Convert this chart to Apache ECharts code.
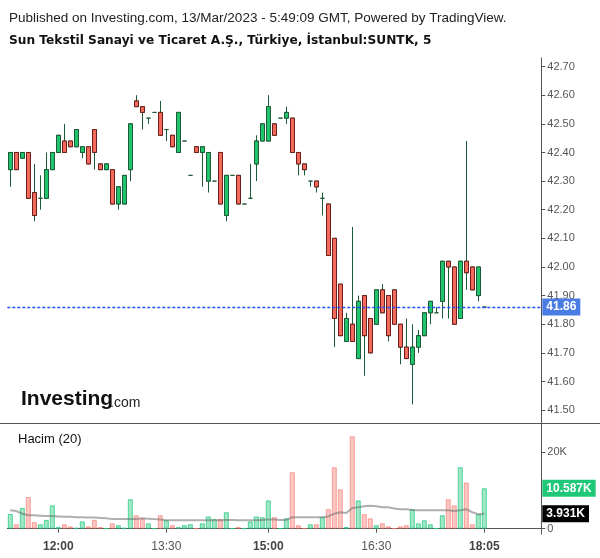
<!DOCTYPE html>
<html>
<head>
<meta charset="utf-8">
<script src="https://cdn.jsdelivr.net/npm/echarts@6/dist/echarts.min.js"></script>
<style>
html,body{margin:0;padding:0;background:#fff;}
#chart{width:600px;height:558px;}
</style>
</head>
<body>
<div id="chart"></div>
<script>
// ---- data ----
var openP  = [42.34,42.40,42.38,42.40,42.26,42.24,42.24,42.34,42.40,42.44,42.44,42.42,42.40,42.42,42.48,42.36,42.34,42.34,42.22,42.22,
              42.34,42.58,42.56,42.52,42.54,42.54,42.48,42.46,42.40,42.44,42.32,42.42,42.40,42.30,42.30,42.40,42.18,42.32,42.32,42.22,
              42.24,42.36,42.44,42.44,42.50,42.52,42.52,42.52,42.40,42.36,42.30,42.30,42.24,42.22,42.10,41.94,41.74,41.80,41.68,41.90,
              41.82,41.80,41.92,41.90,41.92,41.80,41.72,41.66,41.72,41.76,41.84,41.84,41.88,42.02,42.00,41.82,42.02,42.00,41.90,41.86];
var closeP = [42.40,42.34,42.40,42.24,42.18,42.24,42.34,42.40,42.46,42.40,42.42,42.48,42.42,42.36,42.40,42.34,42.36,42.22,42.28,42.32,
              42.50,42.56,42.54,42.52,42.54,42.46,42.48,42.42,42.54,42.44,42.32,42.40,42.42,42.40,42.30,42.22,42.32,42.32,42.22,42.22,
              42.24,42.44,42.50,42.56,42.46,42.52,42.54,42.40,42.36,42.34,42.30,42.28,42.24,42.04,41.82,41.76,41.82,41.74,41.88,41.76,
              41.70,41.92,41.84,41.76,41.80,41.72,41.68,41.72,41.76,41.84,41.88,41.84,42.02,42.00,41.80,42.02,41.98,41.92,42.00,41.86];
var lowP   = [42.28,42.34,42.38,42.24,42.16,42.20,42.24,42.34,42.40,42.40,42.42,42.42,42.38,42.36,42.34,42.34,42.34,42.22,42.20,42.22,
              42.30,42.56,42.48,42.50,42.54,42.46,42.44,42.42,42.40,42.44,42.32,42.40,42.28,42.26,42.30,42.22,42.16,42.32,42.22,42.22,
              42.24,42.30,42.44,42.44,42.46,42.52,42.50,42.40,42.32,42.32,42.28,42.26,42.18,42.04,41.72,41.76,41.74,41.74,41.68,41.62,
              41.70,41.80,41.84,41.74,41.80,41.66,41.68,41.52,41.70,41.76,41.80,41.84,41.82,41.82,41.80,41.82,41.92,41.92,41.88,41.86];
var highP  = [42.40,42.40,42.40,42.40,42.36,42.32,42.40,42.40,42.46,42.50,42.44,42.48,42.42,42.42,42.48,42.36,42.36,42.34,42.28,42.32,
              42.50,42.60,42.56,42.52,42.54,42.58,42.48,42.46,42.54,42.44,42.32,42.42,42.42,42.40,42.30,42.40,42.32,42.32,42.32,42.22,
              42.36,42.46,42.50,42.60,42.50,42.52,42.56,42.52,42.40,42.36,42.30,42.30,42.26,42.22,42.10,41.94,41.84,42.14,41.90,41.90,
              41.82,41.92,41.94,41.90,41.92,41.80,41.82,41.80,41.78,41.84,41.88,41.86,42.02,42.02,42.00,42.02,42.44,42.00,42.00,41.86];
// volume in thousands
var volumeK = [3.85,1.15,5.4,8.3,1.7,1.15,2.3,6.1,0.4,1.15,0.6,0.2,1.9,0.6,2.3,0.4,0.1,1.4,0.9,0.2,
               7.7,3.5,2.7,1.4,0.1,3.5,2.2,0.9,0.4,0.9,1.15,0.1,1.4,3.2,2.5,2.5,4.3,0.1,0.4,0.1,
               1.9,3.2,3.0,7.4,3.0,0.1,2.7,14.8,0.9,0.1,1.15,1.15,3.0,5.1,16.1,10.3,0.4,24.2,7.4,3.8,
               2.7,0.9,1.4,0.6,0.1,0.6,0.9,5.1,1.4,2.2,1.15,0.1,3.5,7.7,6.1,16.1,12.1,1.15,3.8,10.587];
// 20-period volume average as drawn (thousands)
var volumeMA = [4.8,4.6,3.9,3.5,3.5,3.4,3.3,3.3,3.2,3.1,3.1,3.0,3.0,2.9,2.9,2.8,2.7,2.5,2.5,2.5,
                2.5,2.5,2.7,2.6,2.5,2.4,2.2,2.2,2.2,2.2,2.2,2.2,2.2,2.2,2.2,2.2,2.3,2.3,2.2,2.2,
                2.2,2.2,2.3,2.4,2.4,2.3,2.3,3.0,3.0,3.0,3.0,3.0,3.0,3.2,3.9,4.3,4.1,5.4,5.6,5.9,
                6.0,5.9,5.6,5.6,5.3,5.1,5.1,4.9,4.8,4.8,4.8,4.8,4.8,4.8,4.6,4.8,5.1,4.3,3.8,3.931];
var startTime = '11:20';
var skippedTimes = ['14:10','18:00'];
var timeLabels = ['12:00','13:30','15:00','16:30','18:05'];
var boldTimeLabels = ['12:00','15:00','18:05'];
var priceTicks = [41.5,41.6,41.7,41.8,41.9,42.0,42.1,42.2,42.3,42.4,42.5,42.6,42.7];
var volumeTicks = [0,20];
var lastPrice = 41.86;
var lastVolume = 10.587;
var lastMA = 3.931;
var emptySlots = 9;

// ---- build categories ----
var categories = [];
(function(){
  var p = startTime.split(':'); var m = (+p[0])*60 + (+p[1]);
  while (categories.length < openP.length) {
    var s = (m/60|0) + ':' + ('0'+(m%60)).slice(-2);
    if (skippedTimes.indexOf(s) < 0) categories.push(s);
    m += 5;
  }
  for (var i = 0; i < emptySlots; i++) categories.push('pad' + i);
})();

var wickData = [], bodyData = [], volData = [];
for (var i = 0; i < openP.length; i++) {
  var o = openP[i], c = closeP[i];
  wickData.push([o, c, lowP[i], highP[i]]);
  bodyData.push(o === c ? '-' : [o, c, Math.min(o, c), Math.max(o, c)]);
  var up = c >= o;
  volData.push({value: volumeK[i], itemStyle: {
    color: up ? 'rgba(34,200,125,0.42)' : 'rgba(246,110,100,0.38)',
    borderColor: up ? 'rgba(34,200,125,0.75)' : 'rgba(246,110,100,0.6)',
    borderWidth: 1}});
}

var FONT = '"Liberation Sans", Arial, sans-serif';
var GRID_L = 7.3, GRID_W = 534;
var showTime = function (idx, val) { return timeLabels.indexOf(val) >= 0; };
var hiddenLine = {color: 'rgba(0,0,0,0)', width: 1};

var chart = echarts.init(document.getElementById('chart'), null, {renderer: 'canvas'});
chart.setOption({
  animation: false,
  backgroundColor: '#ffffff',
  textStyle: {fontFamily: FONT},
  title: [
    {text: 'Published on Investing.com, 13/Mar/2023 - 5:49:09 GMT, Powered by TradingView.',
     left: 9, top: 11, padding: 0,
     textStyle: {fontSize: 13.5, fontWeight: 'normal', color: '#222', fontFamily: FONT}},
    {text: 'Sun Tekstil Sanayi ve Ticaret A.Ş., Türkiye, İstanbul:SUNTK, 5',
     left: 9, top: 35, padding: 0,
     textStyle: {fontSize: 12.2, fontWeight: 'bold', color: '#111', fontFamily: '"DejaVu Sans", Verdana, sans-serif'}},
    {text: 'Hacim (20)', left: 18, top: 433, padding: 0,
     textStyle: {fontSize: 13, fontWeight: 'normal', color: '#111', fontFamily: FONT}}
  ],
  graphic: [
    {type: 'line', shape: {x1: 0, y1: 423.5, x2: 600, y2: 423.5}, style: {stroke: '#555', lineWidth: 1}, z: 50},
    {type: 'text', x: 21, y: 389, style: {text: 'Investing', font: 'bold 21px ' + FONT, fill: '#111'}, z: 50},
    {type: 'text', x: 110, y: 396, style: {text: '.com', font: '14px ' + FONT, fill: '#222'}, z: 50}
  ],
  grid: [
    {left: GRID_L, width: GRID_W, top: 58, height: 365, containLabel: false},
    {left: GRID_L, width: GRID_W, top: 423, height: 111, containLabel: false}
  ],
  xAxis: [
    {type: 'category', gridIndex: 0, data: categories, boundaryGap: true,
     axisLine: {show: false}, axisTick: {show: false}, axisLabel: {show: false}, splitLine: {show: false}},
    {type: 'category', gridIndex: 1, data: categories, boundaryGap: true,
     axisLine: {show: true, lineStyle: {color: '#555', width: 1}},
     axisTick: {show: true, interval: showTime, alignWithLabel: true, length: 4, lineStyle: {color: '#555'}},
     axisLabel: {show: true, interval: showTime, margin: 7,
       formatter: function (v) { return boldTimeLabels.indexOf(v) >= 0 ? '{b|' + v + '}' : '{n|' + v + '}'; },
       rich: {b: {fontSize: 12, fontWeight: 'bold', color: '#444', fontFamily: FONT},
              n: {fontSize: 12, fontWeight: 'normal', color: '#555', fontFamily: FONT}}},
     splitLine: {show: false}}
  ],
  yAxis: [
    {type: 'value', gridIndex: 0, position: 'right', min: 41.455, max: 42.73,
     axisLine: {show: true, lineStyle: {color: '#555'}},
     axisTick: {show: true, length: 4, customValues: priceTicks, lineStyle: {color: '#555'}},
     axisLabel: {show: true, customValues: priceTicks, margin: 6, color: '#555', fontSize: 11, fontFamily: FONT,
       formatter: function (v) { return v.toFixed(2); }},
     splitLine: {show: false}},
    {type: 'value', gridIndex: 1, position: 'right', min: -1.4, max: 27.7,
     axisLine: {show: true, lineStyle: {color: '#555'}},
     axisTick: {show: true, length: 4, customValues: volumeTicks, lineStyle: {color: '#555'}},
     axisLabel: {show: true, customValues: volumeTicks, margin: 6, color: '#555', fontSize: 11, fontFamily: FONT,
       formatter: function (v) { return v === 0 ? '0' : v + 'K'; }},
     splitLine: {show: false}}
  ],
  series: [
    {type: 'candlestick', name: 'wick', xAxisIndex: 0, yAxisIndex: 0, data: wickData, barWidth: 4, z: 2,
     itemStyle: {color: 'rgba(0,0,0,0)', color0: 'rgba(0,0,0,0)', borderColor: '#1d5a37', borderColor0: '#1d5a37',
                 borderColorDoji: '#1d5a37', borderWidth: 1},
     markLine: {symbol: 'none', silent: true, data: [{yAxis: lastPrice}],
       lineStyle: {color: '#1e50ff', type: [3, 2], width: 1.3, opacity: 1},
       label: {show: true, position: 'end', distance: 1, formatter: lastPrice.toFixed(2),
               backgroundColor: '#4b7ce6', color: '#fff', fontWeight: 'bold', fontSize: 12, fontFamily: FONT,
               padding: [3, 4, 2, 4]}}},
    {type: 'candlestick', name: 'body', xAxisIndex: 0, yAxisIndex: 0, data: bodyData, barWidth: 4, z: 3,
     itemStyle: {color: '#1fc46c', color0: '#f46b5d', borderColor: '#1d5a37', borderColor0: '#6f1d18', borderWidth: 1}},
    {type: 'bar', name: 'volume', xAxisIndex: 1, yAxisIndex: 1, data: volData, barWidth: 5, z: 2,
     markLine: {symbol: 'none', silent: true, data: [{yAxis: lastVolume}],
       lineStyle: hiddenLine,
       label: {show: true, position: 'end', distance: 1, formatter: lastVolume.toFixed(3) + 'K',
               backgroundColor: '#1ec878', color: '#fff', fontWeight: 'bold', fontSize: 12, fontFamily: FONT,
               padding: [3, 4, 2, 4]}}},
    {type: 'line', name: 'ma', xAxisIndex: 1, yAxisIndex: 1, data: volumeMA, symbol: 'none', z: 3,
     lineStyle: {color: 'rgba(110,110,110,0.55)', width: 2},
     markLine: {symbol: 'none', silent: true, data: [{yAxis: lastMA}],
       lineStyle: hiddenLine,
       label: {show: true, position: 'end', distance: 1, formatter: lastMA.toFixed(3) + 'K',
               backgroundColor: '#000', color: '#fff', fontWeight: 'bold', fontSize: 12, fontFamily: FONT,
               padding: [3, 4, 2, 4]}}}
  ]
});
</script>
</body>
</html>
